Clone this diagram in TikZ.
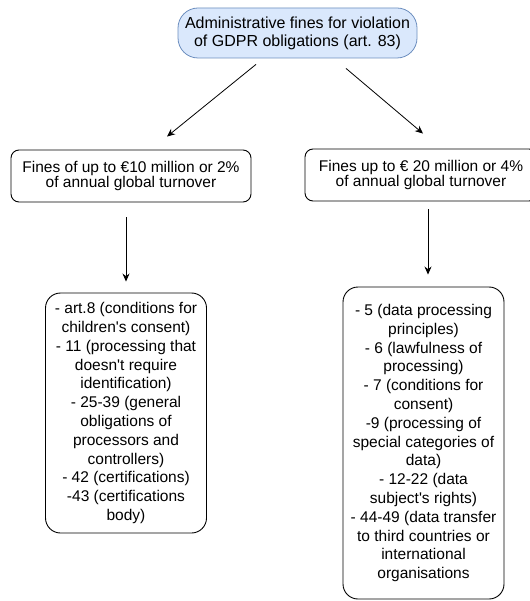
\documentclass[tikz,border=0pt]{standalone}
\usepackage{fontspec}
\setmainfont{Liberation Sans}
\usepackage{xcolor}
\usetikzlibrary{arrows.meta}
\definecolor{gdprfill}{HTML}{DAE8FC}
\definecolor{gdprline}{HTML}{6C8EBF}

\begin{document}
\begin{tikzpicture}[x=1pt, y=-1pt, >={Stealth[length=8pt, width=7pt]},
    head/.style={draw=gdprline, fill=gdprfill, rounded corners=20pt, line width=0.8pt,
                 minimum width=239pt, minimum height=50pt, inner sep=0pt,
                 align=center, font=\fontsize{16}{18}\selectfont},
    fine/.style={draw=black, rounded corners=8pt, line width=0.9pt,
                 minimum height=52pt, inner sep=0pt,
                 align=center, font=\fontsize{15.5}{15}\selectfont},
    artlist/.style={draw=black, rounded corners=15pt, line width=0.9pt,
                    minimum width=161pt, inner sep=0pt,
                    align=center, font=\fontsize{15.5}{18.8}\selectfont},
    link/.style={->, line width=0.8pt}]
  \path[fill=white, use as bounding box] (0,0) rectangle (529,601);
  % titel
  \node[head] (gdpr) at (297.5,33)
      {Administrative fines for violation\\of GDPR obligations (art. 83)};
  % two levels of fines
  \node[fine, minimum width=240pt] (low) at (131,176)
      {Fines of up to €10 million or 2\%\\of annual global turnover};
  \node[fine, minimum width=232pt] (high) at (421,175)
      {Fines up to € 20 million or 4\%\\of annual global turnover};
  % articles of each level
  \node[artlist, minimum height=240pt] (lowart) at (126,413)
      {- art.8 (conditions for\\children\textquotesingle s consent)\\- 11 (processing that\\
       doesn\textquotesingle t require\\identification)\\- 25-39 (general\\obligations of\\
       processors and\\controllers)\\- 42 (certifications)\\-43 (certifications\\body)};
  \node[artlist, minimum height=312pt] (highart) at (423.5,443)
      {- 5 (data processing\\principles)\\- 6 (lawfulness of\\processing)\\
       - 7 (conditions for\\consent)\\-9 (processing of\\special categories of\\
       data)\\- 12-22 (data\\subject\textquotesingle s rights)\\- 44-49 (data transfer\\
       to third countries or\\international\\organisations};
  % connectors (gaps as in the drawing)
  \draw[link] ([xshift=-41.5pt, yshift=-6pt]gdpr.south)
      -- ([xshift=36pt, yshift=13pt]low.north);
  \draw[link] ([xshift=48.5pt, yshift=-10pt]gdpr.south)
      -- ([xshift=2pt, yshift=15pt]high.north);
  \draw[link] ([yshift=-15pt]low.south -| lowart.north)
      -- ([yshift=11pt]lowart.north);
  \draw[link] ([xshift=7pt, yshift=-8pt]high.south)
      -- ([xshift=4.5pt, yshift=12pt]highart.north);
\end{tikzpicture}
\end{document}
